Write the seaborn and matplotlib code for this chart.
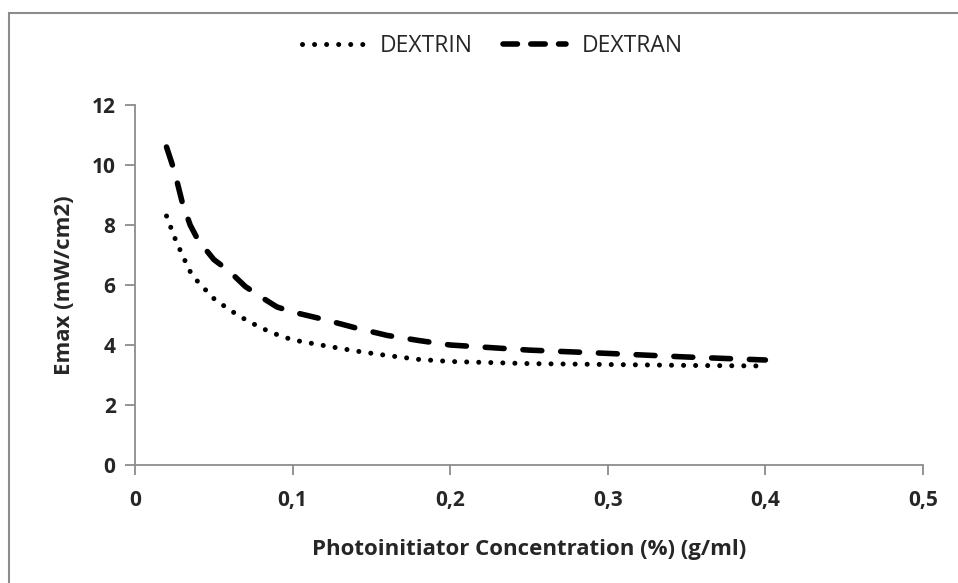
import matplotlib
matplotlib.use("Agg")
import matplotlib.pyplot as plt
import seaborn as sns
import pandas as pd
from matplotlib.patches import Rectangle
from matplotlib.lines import Line2D

# Photoinitiator concentration (g/ml) and measured Emax (mW/cm2)
conc = [0.02, 0.025, 0.03, 0.035, 0.04, 0.05, 0.06, 0.07, 0.08, 0.09, 0.10,
        0.12, 0.14, 0.16, 0.18, 0.20, 0.25, 0.30, 0.35, 0.40]
dextrin = [8.3, 7.6, 7.0, 6.45, 6.1, 5.55, 5.17, 4.85, 4.57, 4.35, 4.17,
           3.98, 3.80, 3.65, 3.52, 3.45, 3.38, 3.35, 3.32, 3.30]
dextran = [10.6, 9.8, 8.75, 8.0, 7.5, 6.85, 6.45, 5.95, 5.6, 5.27, 5.1,
           4.85, 4.57, 4.32, 4.15, 4.0, 3.83, 3.72, 3.60, 3.50]
series_names = ["DEXTRIN", "DEXTRAN"]
x_ticks = [0, 0.1, 0.2, 0.3, 0.4, 0.5]
x_tick_labels = ["0", "0,1", "0,2", "0,3", "0,4", "0,5"]
y_ticks = [0, 2, 4, 6, 8, 10, 12]

sns.set_theme(style="white")
plt.rcParams["font.family"] = ["Open Sans", "DejaVu Sans"]

df = pd.DataFrame({
    "conc": conc * 2,
    "emax": dextrin + dextran,
    "series": [series_names[0]] * len(conc) + [series_names[1]] * len(conc),
})

fig = plt.figure(figsize=(9.58, 5.83), dpi=100)
ax = fig.add_axes([135 / 958, 1 - 465 / 583, (923 - 135) / 958, (465 - 105) / 583])

sns.lineplot(data=df, x="conc", y="emax", hue="series", style="series",
             palette=["black", "black"], legend=False, ax=ax, sort=True)

dot_lw, dash_lw = 3.6, 4.0
dot_style = (0, (0.01, 2.4))
dash_style = (0, (3.4, 3.4))
lines = ax.get_lines()
lines[0].set_linewidth(dot_lw)
lines[0].set_linestyle(dot_style)
lines[0].set_dash_capstyle("round")
lines[1].set_linewidth(dash_lw)
lines[1].set_linestyle(dash_style)
lines[1].set_dash_capstyle("round")

ax.set_xlim(0, 0.5)
ax.set_ylim(0, 12)
ax.set_xticks(x_ticks)
ax.set_xticklabels(x_tick_labels)
ax.set_yticks(y_ticks)

spine_grey = "#8c8c8c"
for side in ["top", "right"]:
    ax.spines[side].set_visible(False)
for side in ["left", "bottom"]:
    ax.spines[side].set_color(spine_grey)
    ax.spines[side].set_linewidth(1.3)
ax.tick_params(axis="both", which="major", direction="out", length=7,
               width=1.3, color=spine_grey, labelsize=15, pad=7,
               left=True, bottom=True)
ax.tick_params(axis="x", pad=11)
for lab in ax.get_xticklabels() + ax.get_yticklabels():
    lab.set_fontweight("bold")

ax.set_xlabel("Photoinitiator Concentration (%) (g/ml)", fontsize=16,
              fontweight="bold", labelpad=20)
ax.set_ylabel("Emax (mW/cm2)", fontsize=16, fontweight="bold", labelpad=12)

handles = [
    Line2D([], [], color="black", linestyle=dot_style, linewidth=dot_lw,
           dash_capstyle="round"),
    Line2D([], [], color="black", linestyle=(0, (2.6, 2.4)), linewidth=dash_lw,
           dash_capstyle="round"),
]
fig.legend(handles, series_names, loc="center",
           bbox_to_anchor=(492 / 958, 1 - 46 / 583),
           ncol=2, frameon=False, fontsize=16.5, handlelength=2.75,
           columnspacing=1.35, handletextpad=0.65)

# Outer chart border
fig.patches.append(Rectangle((9 / 958, -0.05), 1.1, 1 - 13 / 583 + 0.05,
                             transform=fig.transFigure, fill=False,
                             edgecolor="#8c8c8c", linewidth=1.5))

fig.savefig("out.png", dpi=100)
